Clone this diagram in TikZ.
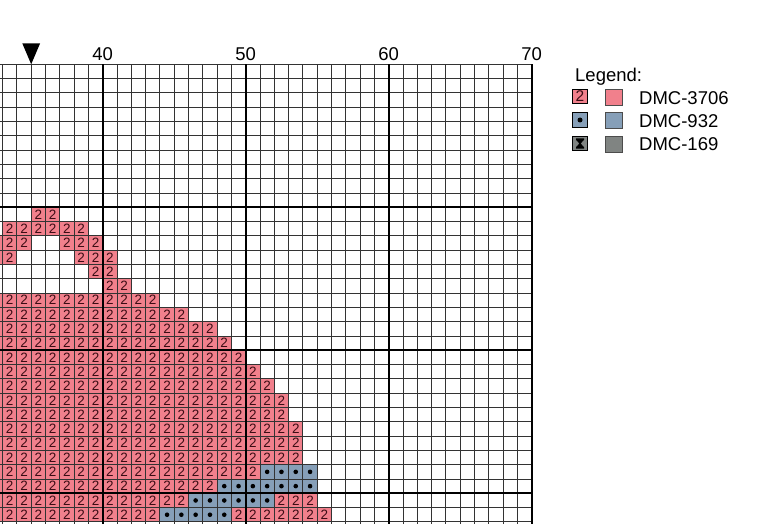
\documentclass[tikz,border=0pt]{standalone}
\usepackage{fontspec}
\setmainfont{Liberation Sans}
\definecolor{pinkc}{RGB}{241,128,140}
\definecolor{bluec}{RGB}{134,159,184}
\definecolor{grayc}{RGB}{128,132,130}
\definecolor{symc}{RGB}{60,12,20}
\tikzset{
  pcell/.style={rectangle,fill=pinkc,minimum size=14.3pt,inner sep=0pt,text=symc,font=\fontsize{13.5}{13.5}\selectfont},
  bcell/.style={rectangle,fill=bluec,minimum size=14.3pt,inner sep=0pt,
    path picture={\fill[black] (path picture bounding box.center) circle (2.3pt);}},
  thingrid/.style={draw=black!80,line width=0.9pt},
  thickgrid/.style={draw=black,line width=1.7pt},
  collabel/.style={anchor=base,font=\fontsize{18.5}{18.5}\selectfont,inner sep=0pt},
  legtext/.style={anchor=base west,font=\fontsize{18.5}{18.5}\selectfont,inner sep=0pt},
  symbox/.style={rectangle,draw=black,line width=0.9pt,minimum size=14.5pt,inner sep=0pt},
  colbox/.style={rectangle,draw=black!70,line width=0.9pt,minimum width=17pt,minimum height=16pt,inner sep=0pt},
}
\begin{document}
\begin{tikzpicture}[x=1pt,y=-1pt]
\useasboundingbox (0,0) rectangle (776,524);
\begin{scope}
\clip (0,0) rectangle (776,524);
\begin{scope}[shift={(102.7,64.3)},x=14.3pt,y=-14.3pt]
% pink cells (column 32 is only partly visible: no symbol shown)
\foreach \r/\a/\b in {10/35/36,11/33/38,12/32/34,12/37/39,13/32/33,13/38/40,14/39/40,15/40/41,
  16/32/43,17/32/45,18/32/47,19/32/48,20/32/49,21/32/50,22/32/51,23/32/52,24/32/52,
  25/32/53,26/32/53,27/32/53,28/32/50,29/32/47,30/32/45,30/52/54,31/32/43,31/49/55}{
  \foreach \c in {\a,...,\b}{
    \ifnum\c=32
      \node[pcell] (p\r-\c) at (\c-39.5,\r+0.5) {};
    \else
      \node[pcell] (p\r-\c) at (\c-39.5,\r+0.5) {2};
    \fi
  }
}
% blue cells
\foreach \r/\a/\b in {28/51/54,29/48/54,30/46/51,31/44/48}{
  \foreach \c in {\a,...,\b}{
    \node[bcell] (b\r-\c) at (\c-39.5,\r+0.5) {};
  }
}
% grid
\foreach \c in {32,...,70}{
  \draw[thingrid] (\c-40,0) -- (\c-40,33);
}
\foreach \r in {0,...,32}{
  \draw[thingrid] (-9,\r) -- (30,\r);
}
\foreach \c in {40,50,60,70}{
  \draw[thickgrid] (\c-40,0) -- (\c-40,33);
}
\foreach \r in {10,20,30}{
  \draw[thickgrid] (-9,\r) -- (30,\r);
}
% column labels
\foreach \c in {40,50,60,70}{
  \node[collabel] (lab\c) at (\c-40,-0.27) {\c};
}
% centre marker
\fill[black] (-5.62,-1.46) -- (-4.38,-1.46) -- (-5,0) -- cycle;
\end{scope}
\end{scope}
% legend
\node[legtext] (legtitle) at (575,81.7) {Legend:};
\node[symbox,fill=pinkc,text=symc,font=\fontsize{15.5}{15.5}\selectfont] (s1) at (580,96.5) {2};
\node[symbox,fill=bluec] (s2) at (580,120) {};
\fill[black] (s2.center) circle (2.5pt);
\node[symbox,fill=grayc] (s3) at (580,143.5) {};
\fill[black] ([shift={(-4,-5)}]s3.center) -- ++(8,0) -- ++(0,1.3) -- ++(-3.4,3.7) -- ++(3.4,3.7) -- ++(0,1.3) -- ++(-8,0) -- ++(0,-1.3) -- ++(3.4,-3.7) -- ++(-3.4,-3.7) -- cycle;
\node[colbox,fill=pinkc] (c1) at (613.8,97) {};
\node[colbox,fill=bluec] (c2) at (613.8,120.5) {};
\node[colbox,fill=grayc] (c3) at (613.8,144) {};
\node[legtext] (t1) at (639,104.3) {DMC-3706};
\node[legtext] (t2) at (639,127.3) {DMC-932};
\node[legtext] (t3) at (639,150.3) {DMC-169};
\end{tikzpicture}
\end{document}
